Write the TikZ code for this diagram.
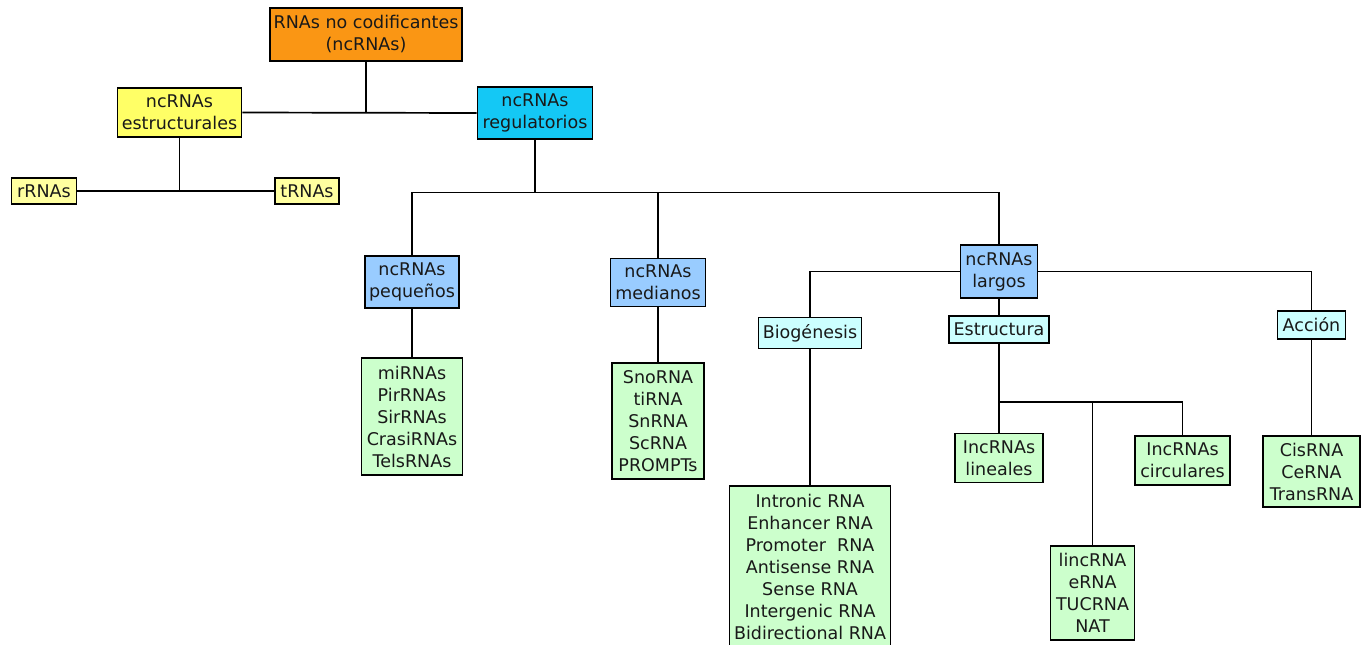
\documentclass[tikz,border=0pt]{standalone}
\usepackage{fontspec}
\setmainfont{DejaVu Sans}
\definecolor{cOrange}{RGB}{250,150,20}
\definecolor{cYellow}{RGB}{255,255,102}
\definecolor{cPaleY}{RGB}{255,255,160}
\definecolor{cCyan}{RGB}{20,200,245}
\definecolor{cBlue}{RGB}{153,204,255}
\definecolor{cGreen}{RGB}{204,255,204}
\definecolor{cLCyan}{RGB}{204,255,255}
\definecolor{cText}{RGB}{25,25,25}
\tikzset{
  box/.style={draw=black, line width=1.7pt, inner sep=1pt, align=center,
    text=cText, font=\fontsize{17.5}{22}\selectfont},
  wh/.style 2 args={minimum width=#1pt, minimum height=#2pt},
  conn/.style={draw=black, line width=1.7pt},
}
\begin{document}
\begin{tikzpicture}[x=1pt,y=-1pt]
\useasboundingbox (0,0) rectangle (1368,645);
% level 0-1
\node[box, fill=cOrange, wh={192}{53}] (root) at (366,34.5) {RNAs no codificantes\\(ncRNAs)};
\node[box, fill=cYellow, wh={124}{49}] (estr) at (179.5,112.5) {ncRNAs\\estructurales};
\node[box, fill=cCyan, wh={115}{52}] (regu) at (535,113) {ncRNAs\\regulatorios};
\node[box, fill=cPaleY, wh={65}{26}] (rrna) at (44,191) {rRNAs};
\node[box, fill=cPaleY, wh={64}{26}] (trna) at (307,191) {tRNAs};
% regulatory
\node[box, fill=cBlue, wh={94}{52}] (peq) at (412,282) {ncRNAs\\pequeños};
\node[box, fill=cBlue, wh={95}{48}] (med) at (658,282.5) {ncRNAs\\medianos};
\node[box, fill=cBlue, wh={77}{53}] (larg) at (999,271.5) {ncRNAs\\largos};
\node[box, fill=cGreen, wh={101}{117}] (mi) at (412,416.5) {miRNAs\\PirRNAs\\SirRNAs\\CrasiRNAs\\TelsRNAs};
\node[box, fill=cGreen, wh={92}{116}] (sno) at (658,421.3) {SnoRNA\\tiRNA\\SnRNA\\ScRNA\\PROMPTs};
% largos
\node[box, fill=cLCyan, wh={103}{31}] (biog) at (810,333) {Biogénesis};
\node[box, fill=cLCyan, wh={100}{27}] (estu) at (999,329.5) {Estructura};
\node[box, fill=cLCyan, wh={68}{28}] (acc) at (1311.5,325) {Acción};
\node[box, fill=cGreen, wh={161}{162}] (big) at (810,567) {Intronic RNA\\Enhancer RNA\\Promoter~ RNA\\Antisense RNA\\Sense RNA\\Intergenic RNA\\Bidirectional RNA};
\node[box, fill=cGreen, wh={88}{49}] (lin) at (999,458) {IncRNAs\\lineales};
\node[box, fill=cGreen, wh={95}{49}] (circ) at (1182.5,460.7) {IncRNAs\\circulares};
\node[box, fill=cGreen, wh={84}{94}] (linc) at (1092.5,593) {lincRNA\\eRNA\\TUCRNA\\NAT};
\node[box, fill=cGreen, wh={97}{71}] (cis) at (1311.5,471.7) {CisRNA\\CeRNA\\TransRNA};
% connectors
\coordinate (r1) at (535,192.5);
\coordinate (e1) at (999,402);
\draw[conn] (root.south) -- (root.south |- estr.east);
\draw[conn] (estr.east) -- (regu.west);
\draw[conn] (estr.south) -- (estr.south |- rrna.east);
\draw[conn] (rrna.east) -- (trna.west);
\draw[conn] (regu.south) -- (r1);
\draw[conn] (peq.north) -- (peq.north |- r1) -- (larg.north |- r1) -- (larg.north);
\draw[conn] (med.north) -- (med.north |- r1);
\draw[conn] (peq.south) -- (mi.north);
\draw[conn] (med.south) -- (sno.north);
\draw[conn] (larg.west) -- (biog.north |- larg.west) -- (biog.north);
\draw[conn] (larg.east) -- (acc.north |- larg.east) -- (acc.north);
\draw[conn] (larg.south) -- (estu.north);
\draw[conn] (biog.south) -- (big.north);
\draw[conn] (acc.south) -- (cis.north);
\draw[conn] (estu.south) -- (e1) -- (lin.north);
\draw[conn] (e1) -- (circ.north |- e1) -- (circ.north);
\draw[conn] (linc.north |- e1) -- (linc.north);
\end{tikzpicture}
\end{document}
